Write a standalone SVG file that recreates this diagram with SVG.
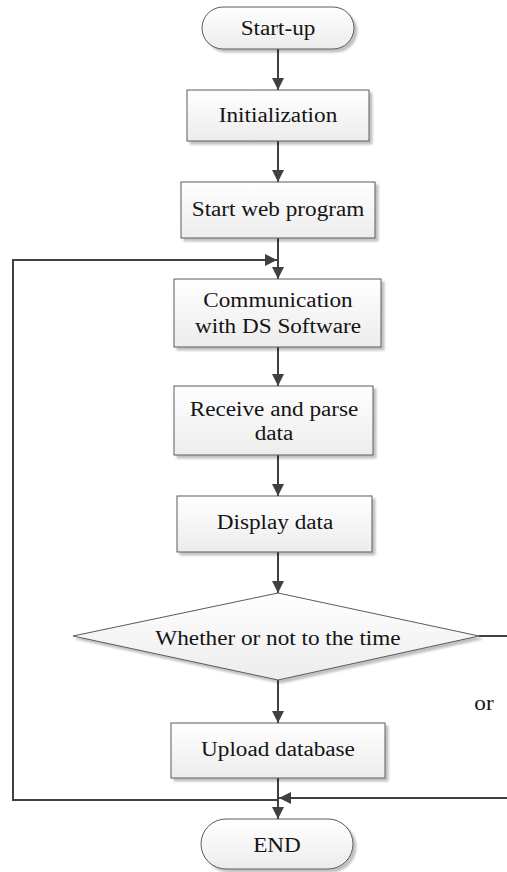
<svg xmlns="http://www.w3.org/2000/svg" width="507" height="872" viewBox="0 0 507 872">
  <style>
    .box { fill: url(#g); stroke: #5a5a5a; stroke-width: 1; filter: url(#sh); }
    .t { font-family: 'Liberation Serif', 'Times New Roman', serif; font-size: 20px; fill: #141414; text-anchor: middle; }
    .ln { fill: none; stroke: #404040; stroke-width: 2; }
    .ar { fill: none; stroke: #404040; stroke-width: 2; marker-end: url(#ah); }
  </style>
  <defs>
    <linearGradient id="g" x1="0" y1="0" x2="0" y2="1">
      <stop offset="0" stop-color="#ffffff"/>
      <stop offset="1" stop-color="#ececec"/>
    </linearGradient>
    <filter id="sh" x="-10%" y="-10%" width="125%" height="135%">
      <feGaussianBlur in="SourceAlpha" stdDeviation="1.2"/>
      <feOffset dx="2.5" dy="3" result="o"/>
      <feComponentTransfer><feFuncA type="linear" slope="0.25"/></feComponentTransfer>
      <feMerge><feMergeNode/><feMergeNode in="SourceGraphic"/></feMerge>
    </filter>
    <marker id="ah" viewBox="0 0 12 12" refX="12" refY="6" markerWidth="12" markerHeight="12" markerUnits="userSpaceOnUse" orient="auto">
      <path d="M0,0 L12,6 L0,12 z" fill="#404040"/>
    </marker>
  </defs>

  <g id="connectors">
    <line class="ar" x1="278" y1="49" x2="278" y2="90"/>
    <line class="ar" x1="278" y1="141" x2="278" y2="182"/>
    <line class="ar" x1="278" y1="238" x2="278" y2="279"/>
    <line class="ar" x1="278" y1="347" x2="278" y2="386"/>
    <line class="ar" x1="278" y1="455" x2="278" y2="496"/>
    <line class="ar" x1="278" y1="552" x2="278" y2="593"/>
    <line class="ar" x1="278" y1="680" x2="278" y2="723"/>
    <line class="ar" x1="278" y1="778" x2="278" y2="819"/>
    <polyline class="ar" points="278,800 13,800 13,260 277,260"/>
    <line class="ln" x1="479" y1="636" x2="507" y2="636"/>
    <line class="ar" x1="507" y1="798" x2="279" y2="798"/>
  </g>

  <g id="start">
    <rect class="box" x="202" y="7" width="152" height="42" rx="21" ry="21"/>
    <text class="t" transform="translate(278,35) scale(1.16,1)">Start-up</text>
  </g>
  <g id="init">
    <rect class="box" x="187" y="90" width="182" height="51"/>
    <text class="t" transform="translate(278,122) scale(1.16,1)">Initialization</text>
  </g>
  <g id="web">
    <rect class="box" x="181" y="182" width="194" height="56"/>
    <text class="t" transform="translate(278,216) scale(1.16,1)">Start web program</text>
  </g>
  <g id="comm">
    <rect class="box" x="174" y="279" width="207" height="68"/>
    <text class="t" transform="translate(278,307) scale(1.16,1)">Communication</text>
    <text class="t" transform="translate(278,333) scale(1.16,1)">with DS Software</text>
  </g>
  <g id="receive">
    <rect class="box" x="174" y="386" width="199" height="69"/>
    <text class="t" transform="translate(274,416) scale(1.16,1)">Receive and parse</text>
    <text class="t" transform="translate(274,440) scale(1.16,1)">data</text>
  </g>
  <g id="display">
    <rect class="box" x="177" y="496" width="195" height="56"/>
    <text class="t" transform="translate(275,529) scale(1.16,1)">Display data</text>
  </g>
  <g id="decision">
    <polygon class="box" points="278,593 479,636 278,680 73,636"/>
    <text class="t" transform="translate(278,645) scale(1.16,1)">Whether or not to the time</text>
  </g>
  <g id="or-label">
    <text class="t" transform="translate(484,710) scale(1.16,1)">or</text>
  </g>
  <g id="upload">
    <rect class="box" x="171" y="723" width="214" height="55"/>
    <text class="t" transform="translate(278,756) scale(1.16,1)">Upload database</text>
  </g>
  <g id="end">
    <rect class="box" x="201" y="819" width="152" height="50" rx="25" ry="25"/>
    <text class="t" transform="translate(277,852) scale(1.16,1)">END</text>
  </g>
</svg>
